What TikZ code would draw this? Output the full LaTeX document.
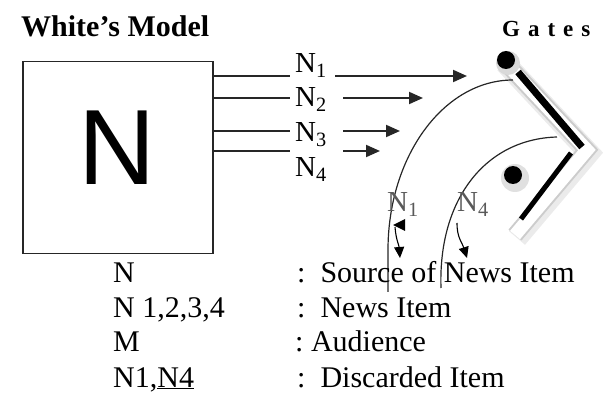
\documentclass[tikz,border=0pt]{standalone}
\usepackage{fontspec}
\setmainfont{Liberation Serif}
\setsansfont{Liberation Sans}
\usetikzlibrary{arrows.meta}
\tikzset{
  % lines and arrows of the news items
  feed/.style={line width=2pt, black!85},
  newsarrow/.style={feed, -{Triangle[length=14pt,width=12pt]}},
  dropped/.style={line width=1.1pt, -{Triangle[length=11pt,width=10pt]}},
  gatearc/.style={line width=1.2pt, black!85},
  itemlabel/.style={font=\fontsize{29}{30}\selectfont, anchor=base west},
  legend/.style={font=\fontsize{30}{34}\selectfont, anchor=base west}
}

\begin{document}
\begin{tikzpicture}[x=1pt, y=-1pt, every node/.style={inner sep=0pt}]
  \useasboundingbox (0,0) rectangle (606,393);

  \node [font=\bfseries\fontsize{30}{32}\selectfont, anchor=base west] (title) at (21,37) {White’s Model};
  \node [draw, line width=1.5pt, black!85, minimum width=190pt, minimum height=192pt, anchor=north west] (source) at (22,61) {};
  \node [font=\sffamily\fontsize{107}{110}\selectfont] (letter) at (117,148) {N};

  % news items leaving the source
  \foreach \i/\y/\a/\e in {1/76/335/467, 2/98/343/423, 3/131/343/400, 4/151/343/380} {
    \coordinate (cut\i) at (290,\y);
    \coordinate (from\i) at (\a,\y);
    \coordinate (to\i) at (\e,\y);
    \draw [feed] (source.east |- cut\i) -- (cut\i);
    \draw [newsarrow] (from\i) -- (to\i);
  }
  \foreach \i/\b in {1/73, 2/107, 3/142, 4/177}
    \node [itemlabel] (n\i) at (295,\b) {N\textsubscript{\i}};

  % the gate
  \node [font=\bfseries\fontsize{23}{25}\selectfont, anchor=base west] (gates) at (502,37)
    {G\hspace{8pt}a\hspace{8pt}t\hspace{8pt}e\hspace{8pt}s};
  \draw [black!8, line width=21pt, line join=miter] (505,63) -- (589,153) -- (517,238);
  \draw [black!20, line width=17pt, line join=miter] (503,60) -- (587,150) -- (515,235);
  \draw [white, line width=13pt, line join=miter] (503,60) -- (587,150) -- (515,235);
  \fill [black!15] (508,63) circle (12pt);

  \coordinate (outtop) at (513,80);
  \coordinate (outend) at (388,292);
  \coordinate (intop) at (557,137);
  \coordinate (inend) at (441,288);
  \draw [gatearc] (outtop) .. controls (444,80) and (388,156) .. (388,250) -- (outend);
  \draw [gatearc] (intop) .. controls (485,139) and (438,200) .. (inend);

  \draw [line width=7pt] (518,72) -- (582,147);
  \draw [line width=5pt] (571,153) -- (521,219);
  \fill (506,60) circle (9pt);
  \fill [black!12] (515,178) circle (14pt);
  \fill (513,175) circle (9pt);

  % discarded items
  \node [itemlabel, text=black!65] (d1) at (387,212) {N\textsubscript{1}};
  \node [itemlabel, text=black!65] (d4) at (457,212) {N\textsubscript{4}};
  \coordinate (d1top) at (395,227);
  \coordinate (d1end) at (400,258);
  \coordinate (d4top) at (457,223);
  \coordinate (d4end) at (467,258);
  \fill (405,219) -- (393,225) -- (405,231) -- cycle;
  \draw [dropped] (d1top) .. controls (396,240) and (399,245) .. (d1end);
  \draw [dropped] (d4top) .. controls (457,238) and (462,242) .. (d4end);

  % legend
  \node [legend] (key1) at (113,283) {N};
  \node [legend] (key2) at (113,318) {N 1,2,3,4};
  \node [legend] (key3) at (113,352) {M};
  \node [legend] (key4) at (113,387) {N1,\underline{N4}};
  \node [legend] (desc1) at (297,283) {:~~Source of News Item};
  \node [legend] (desc2) at (297,318) {:~~News Item};
  \node [legend] (desc3) at (295,352) {:~Audience};
  \node [legend] (desc4) at (297,387) {:~~Discarded Item};
\end{tikzpicture}
\end{document}
